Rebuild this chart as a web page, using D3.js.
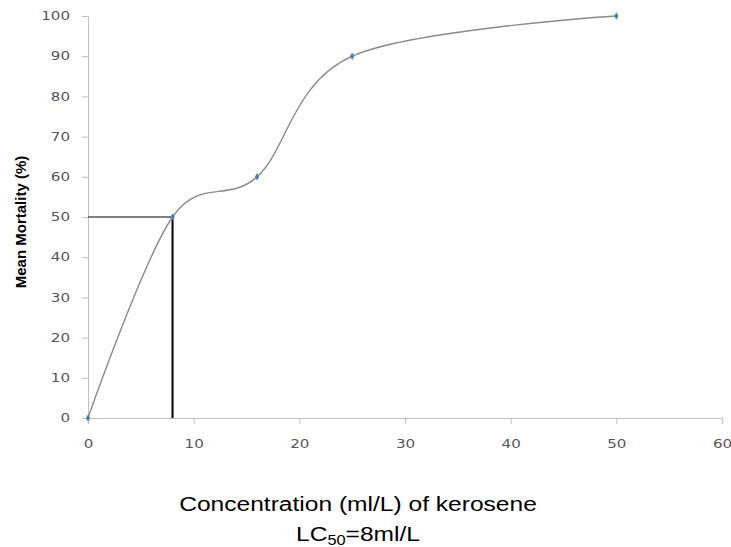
<!DOCTYPE html>
<html><head><meta charset="utf-8">
<script src="https://cdn.jsdelivr.net/npm/d3@7"></script>
<style>body{margin:0;background:#fff}</style>
</head><body>
<svg id="c" width="731" height="547"></svg>
<script>
const concentrations = [0, 8, 16, 25, 50];
const mortality = [0, 50, 60, 90, 100];
const xTicks = [0, 10, 20, 30, 40, 50, 60];
const yTicks = [0, 10, 20, 30, 40, 50, 60, 70, 80, 90, 100];
const lc50 = {x: 8, y: 50};

const svg = d3.select("#c");
const x = d3.scaleLinear().domain([0, 60]).range([88, 722]);
const y = d3.scaleLinear().domain([0, 100]).range([418, 16]);
const font = "'Liberation Sans', Arial, sans-serif";
const tickFont = "'DejaVu Sans', sans-serif";
const SX = 1.28;

const xa = svg.append("g").attr("transform", "translate(0,418)")
  .call(d3.axisBottom(x).tickValues(xTicks).tickSize(6).tickPadding(16));
const ya = svg.append("g").attr("transform", "translate(88,0)")
  .call(d3.axisLeft(y).tickValues(yTicks).tickSize(6).tickPadding(12));
[xa, ya].forEach(g => {
  g.select(".domain").attr("stroke", "#c0c0c0");
  g.selectAll(".tick line").attr("stroke", "#c0c0c0");
  g.selectAll(".tick text").attr("fill", "#555").style("font-family", tickFont).style("font-size", "11.8px");
});
ya.selectAll(".tick text").attr("x", -18 / SX).attr("transform", `scale(${SX},1)`);
xa.selectAll(".tick text").attr("transform", `scale(${SX},1)`);

// reference lines for LC50
svg.append("line").attr("x1", x(0)).attr("x2", x(lc50.x)).attr("y1", y(lc50.y)).attr("y2", y(lc50.y))
  .attr("stroke", "#555").attr("stroke-width", 1.5);
svg.append("line").attr("x1", x(lc50.x)).attr("x2", x(lc50.x)).attr("y1", y(lc50.y)).attr("y2", y(0))
  .attr("stroke", "#000").attr("stroke-width", 2);

const data = concentrations.map((c, i) => [c, mortality[i]]);
const line = d3.line().x(d => x(d[0])).y(d => y(d[1])).curve(d3.curveCardinal.tension(0));
svg.append("path").datum(data).attr("d", line).attr("fill", "none")
  .attr("stroke", "#8a8a8a").attr("stroke-width", 1.4);

svg.selectAll(".pt").data(data).enter().append("path")
  .attr("transform", d => `translate(${x(d[0])},${y(d[1])})`)
  .attr("d", d3.symbol(d3.symbolDiamond, 16)())
  .attr("fill", "#4a7ebb");

svg.append("text").attr("transform", "translate(26,222) rotate(-90)")
  .attr("text-anchor", "middle").style("font-family", font).style("font-size", "15px")
  .style("font-weight", "bold").text("Mean Mortality (%)");

const TX = 1.17;
svg.append("text").attr("transform", `translate(358,511) scale(${TX},1)`).attr("text-anchor", "middle")
  .style("font-family", font).style("font-size", "21px").text("Concentration (ml/L) of kerosene");
const t2 = svg.append("text").attr("transform", `translate(358,541) scale(${TX},1)`).attr("text-anchor", "middle")
  .style("font-family", font).style("font-size", "21px");
t2.append("tspan").text("LC");
t2.append("tspan").attr("font-size", "14px").attr("dy", 4).text("50");
t2.append("tspan").attr("dy", -4).text("=8ml/L");
</script>
</body></html>
